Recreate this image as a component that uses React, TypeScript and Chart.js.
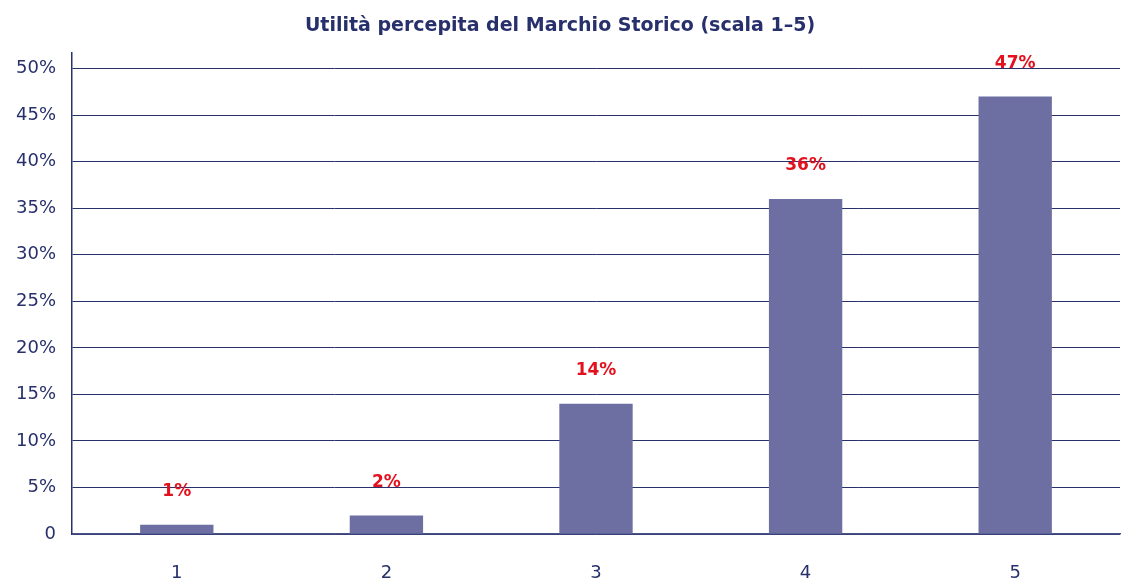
import React, { useEffect, useRef } from "react";
import { Chart, registerables } from "chart.js";

Chart.register(...registerables);

const TITLE = "Utilità percepita del Marchio Storico (scala 1–5)";
const categories = ["1", "2", "3", "4", "5"];
const values = [1, 2, 14, 36, 47];
const valueLabels = ["1%", "2%", "14%", "36%", "47%"];
const yTickValues = [0, 5, 10, 15, 20, 25, 30, 35, 40, 45, 50];

const FONT = "'DejaVu Sans', sans-serif";
const NAVY = "#27306b";

const labelPlugin = {
  id: "valueLabels",
  afterDatasetsDraw(chart: any) {
    const { ctx } = chart;
    const meta = chart.getDatasetMeta(0);
    ctx.save();
    ctx.fillStyle = "#e3101d";
    ctx.font = `bold 17px ${FONT}`;
    ctx.textAlign = "center";
    ctx.textBaseline = "middle";
    meta.data.forEach((bar: any, i: number) => {
      ctx.fillText(valueLabels[i], bar.x, bar.y - 33);
    });
    ctx.restore();
  },
};

export default function App() {
  const ref = useRef<HTMLCanvasElement | null>(null);
  useEffect(() => {
    if (!ref.current) return;
    const chart = new Chart(ref.current, {
      type: "bar",
      data: {
        labels: categories,
        datasets: [
          {
            data: values,
            backgroundColor: "#6d6fa3",
            barPercentage: 0.35,
            categoryPercentage: 1,
          },
        ],
      },
      plugins: [labelPlugin],
      options: {
        animation: false,
        responsive: false,
        maintainAspectRatio: false,
        layout: { padding: { left: 0, right: 2, top: 0, bottom: 0 } },
        plugins: {
          legend: { display: false },
          tooltip: { enabled: false },
          title: {
            display: true,
            text: TITLE,
            color: NAVY,
            font: { family: FONT, size: 19, weight: "bold", lineHeight: 1.2 },
            padding: { top: 15, bottom: 15 },
          },
        },
        scales: {
          x: {
            afterFit: (scale: any) => {
              scale.height = 45;
            },
            grid: { display: false },
            border: { display: true, color: "#4a5286", width: 1.5 },
            ticks: {
              color: NAVY,
              font: { family: FONT, size: 18, lineHeight: 1 },
              padding: 22,
              maxRotation: 0,
            },
          },
          y: {
            z: 1,
            min: 0,
            max: 51.7,
            afterBuildTicks: (scale: any) => {
              scale.ticks = yTickValues.map((v) => ({ value: v }));
            },
            afterFit: (scale: any) => {
              scale.width = 72;
            },
            grid: { color: "#28306e", lineWidth: 1, drawTicks: false },
            border: { display: true, color: "#28306e", width: 1.5 },
            ticks: {
              color: NAVY,
              font: { family: FONT, size: 18 },
              padding: 16,
              callback: (v: any) => (Number(v) === 0 ? "0" : `${v}%`),
            },
          },
        },
      },
    });
    return () => chart.destroy();
  }, []);
  return (
    <div style={{ position: "fixed", left: 0, top: 0, width: 1122, height: 579, background: "#fff" }}>
      <canvas ref={ref} width={1122} height={579} style={{ display: "block" }} />
    </div>
  );
}
